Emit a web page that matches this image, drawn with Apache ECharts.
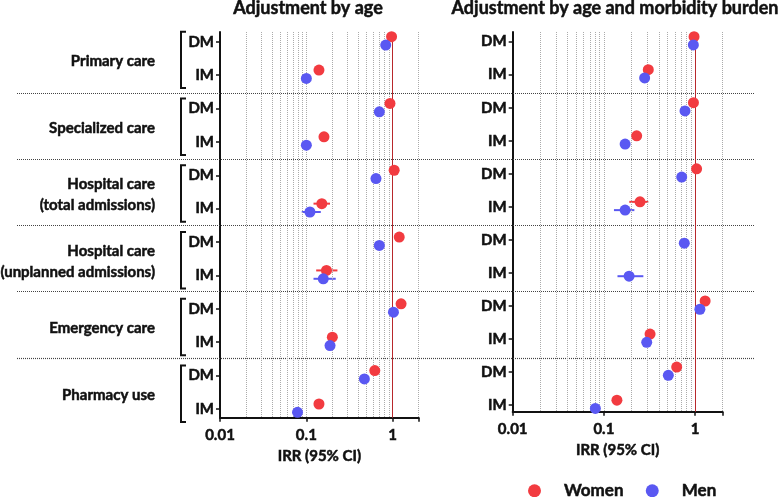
<!DOCTYPE html>
<html>
<head>
<meta charset="utf-8">
<script src="https://cdn.jsdelivr.net/npm/echarts@6/dist/echarts.min.js"></script>
<style>
html,body{margin:0;padding:0;background:#fff;}
#c{width:778px;height:497px;}
</style>
</head>
<body>
<div id="c"></div>
<script>
// ---------- data ----------
const groups = ['Primary care', 'Specialized care', 'Hospital care\n(total admissions)',
  'Hospital care\n(unplanned admissions)', 'Emergency care', 'Pharmacy use'];
const rowLabels = ['DM','IM','DM','IM','DM','IM','DM','IM','DM','IM','DM','IM'];
const panelTitles = ['Adjustment by age', 'Adjustment by age and morbidity burden'];
const xAxisName = 'IRR (95% CI)';
const gridValues = [0.02,0.03,0.04,0.05,0.06,0.07,0.08,0.09,0.1,0.2,0.3,0.4,0.5,0.6,0.7,0.8,0.9,2];
const refValue = 1;

// Adjustment by age
const ageWomen   = [0.97, 0.14, 0.93, 0.16, 1.04, 0.151, 1.19, 0.171, 1.25, 0.20, 0.62, 0.14];
const ageMen     = [0.83, 0.10, 0.70, 0.10, 0.64, 0.110, 0.70, 0.157, 1.02, 0.188, 0.47, 0.079];
const ageWomenLo = [null,null,null,null,null,0.121,null,0.130,null,null,null,null];
const ageWomenHi = [null,null,null,null,null,0.188,null,0.229,null,null,null,null];
const ageMenLo   = [null,null,null,null,null,0.0885,null,0.121,null,null,null,null];
const ageMenHi   = [null,null,null,null,null,0.147,null,0.219,null,null,null,null];

// Adjustment by age and morbidity burden
const morbWomen   = [0.975, 0.307, 0.96, 0.229, 1.04, 0.249, null, null, 1.29, 0.321, 0.629, 0.139];
const morbMen     = [0.958, 0.280, 0.776, 0.171, 0.714, 0.171, 0.762, 0.189, 1.13, 0.295, 0.509, 0.0806];
const morbWomenLo = [null,null,null,null,null,0.190,null,null,null,null,null,null];
const morbWomenHi = [null,null,null,null,null,0.307,null,null,null,null,null,null];
const morbMenLo   = [null,null,null,null,null,0.129,null,0.141,null,null,null,null];
const morbMenHi   = [null,null,null,null,null,0.216,null,0.271,null,null,null,null];

// ---------- style ----------
const FONT = 'Lato';
const INK = '#111';
const HEAVY = {fontFamily: FONT, fontWeight: 'bold', color: INK, textBorderColor: INK, textBorderWidth: 0.5};
const RED = '#f23b40';
const BLUE = '#5a58f2';
const WOMEN_OFF = -0.15, MEN_OFF = 0.1;

const chart = echarts.init(document.getElementById('c'), null, {renderer: 'canvas'});

function pts(vals, off) {
  return vals.map((v, i) => v == null ? null : [v, i + off]).filter(d => d);
}
function bars(lo, hi, off) {
  const out = [];
  lo.forEach((l, i) => { if (l != null && hi[i] != null) out.push([l, hi[i], i + off]); });
  return out;
}
function errSeries(name, lo, hi, off, color, idx) {
  return {
    name: name, type: 'custom', xAxisIndex: idx, yAxisIndex: idx, z: 4,
    data: bars(lo, hi, off), encode: {x: [0, 1], y: 2},
    itemStyle: {color: color},
    renderItem: function (params, api) {
      const a = api.coord([api.value(0), api.value(2)]);
      const b = api.coord([api.value(1), api.value(2)]);
      return {type: 'line', shape: {x1: a[0], y1: a[1], x2: b[0], y2: b[1]},
        style: {stroke: color, lineWidth: 2}};
    }
  };
}
function gridLineSeries(idx) {
  const data = gridValues.map(v => ({xAxis: v}));
  data.push({xAxis: refValue, lineStyle: {color: '#b8282c', type: 'solid', width: 1}});
  return {
    type: 'scatter', xAxisIndex: idx, yAxisIndex: idx, data: [], z: 1, silent: true,
    markLine: {silent: true, symbol: ['none', 'none'], label: {show: false}, animation: false,
      lineStyle: {color: '#ababab', type: [1, 1], width: 1}, data: data}
  };
}
function scatterSeries(name, vals, off, color, idx) {
  return {name: name, type: 'scatter', xAxisIndex: idx, yAxisIndex: idx, z: 5,
    symbolSize: 11, itemStyle: {color: color, opacity: 1}, data: pts(vals, off)};
}
function xAxis(idx) {
  return {
    type: 'log', logBase: 10, gridIndex: idx, min: 0.01, max: 2, position: 'bottom',
    name: xAxisName, nameLocation: 'middle', nameGap: 31,
    nameTextStyle: Object.assign({fontSize: 15}, HEAVY),
    axisLine: {show: true, onZero: false, lineStyle: {color: INK, width: 2}},
    axisTick: {show: true, length: 4, lineStyle: {color: INK, width: 1.5}},
    axisLabel: Object.assign({fontSize: 15, margin: 10,
      formatter: v => (Math.abs(Math.log10(v) - Math.round(Math.log10(v))) < 1e-6) ? String(+v.toPrecision(3)) : ''}, HEAVY),
    splitLine: {show: false}, minorTick: {show: false}
  };
}
function yAxis(idx, max) {
  return {
    type: 'value', gridIndex: idx, inverse: true, min: -0.29, max: max,
    axisLine: {show: true, onZero: false, lineStyle: {color: INK, width: 2}},
    axisTick: {show: true, length: 4, customValues: rowLabels.map((_, i) => i),
      lineStyle: {color: INK, width: 1.5}},
    axisLabel: Object.assign({show: true, customValues: rowLabels.map((_, i) => i), margin: 6,
      fontSize: 15, formatter: v => rowLabels[Math.round(v)] || ''}, HEAVY),
    splitLine: {show: false}
  };
}

const option = {
  animation: false,
  backgroundColor: '#fff',
  title: [
    {text: panelTitles[0], left: 308, top: -1, textAlign: 'center', padding: 0,
     textStyle: Object.assign({fontSize: 18}, HEAVY)},
    {text: panelTitles[1], left: 615, top: -1, textAlign: 'center', padding: 0,
     textStyle: Object.assign({fontSize: 18}, HEAVY)}
  ],
  legend: {
    data: ['Women', 'Men'], left: 528, top: 482, padding: 0, icon: 'circle',
    itemWidth: 13, itemHeight: 13, itemGap: 22,
    textStyle: Object.assign({fontSize: 17, padding: [0, 0, 0, 18]}, HEAVY)
  },
  grid: [
    {left: 220, top: 32, width: 198.7, height: 385.7},
    {left: 512.7, top: 32, width: 209.8, height: 379.7}
  ],
  xAxis: [xAxis(0), xAxis(1)],
  yAxis: [yAxis(0, 11.26), yAxis(1, 11.2)],
  series: [
    gridLineSeries(0), gridLineSeries(1),
    errSeries('Women', ageWomenLo, ageWomenHi, WOMEN_OFF, RED, 0),
    errSeries('Men', ageMenLo, ageMenHi, MEN_OFF, BLUE, 0),
    errSeries('Women', morbWomenLo, morbWomenHi, WOMEN_OFF, RED, 1),
    errSeries('Men', morbMenLo, morbMenHi, MEN_OFF, BLUE, 1),
    scatterSeries('Women', ageWomen, WOMEN_OFF, RED, 0),
    scatterSeries('Men', ageMen, MEN_OFF, BLUE, 0),
    scatterSeries('Women', morbWomen, WOMEN_OFF, RED, 1),
    scatterSeries('Men', morbMen, MEN_OFF, BLUE, 1)
  ]
};
chart.setOption(option);

// ---------- decorations: separators, brackets, group labels ----------
const sepRows = [1.55, 3.52, 5.5, 7.47, 9.47];
const graphics = [];
function yPix(row) { return chart.convertToPixel({yAxisIndex: 0}, row); }
sepRows.forEach(r => {
  const y = Math.round(yPix(r)) + 0.5;
  graphics.push({type: 'line', silent: true, z: 2,
    shape: {x1: 17, y1: y, x2: 755, y2: y},
    style: {stroke: '#444', lineWidth: 1.2, lineDash: [1, 1]}});
});
groups.forEach((g, k) => {
  const top = yPix(2 * k - 0.3), bot = yPix(2 * k + 1.39);
  graphics.push({type: 'polyline', silent: true,
    shape: {points: [[186, top], [181, top], [181, bot], [186, bot]]},
    style: {stroke: INK, lineWidth: 2, fill: null}});
  const mid = yPix(2 * k + 0.5) + 3;
  graphics.push({type: 'text', silent: true, x: 155, y: mid,
    style: {text: g, fontFamily: FONT, fontWeight: 'bold', fontSize: 15, fill: INK,
      stroke: INK, lineWidth: 0.5,
      align: 'right', verticalAlign: 'middle', lineHeight: 21}});
});
chart.setOption({graphic: graphics});
</script>
</body>
</html>
